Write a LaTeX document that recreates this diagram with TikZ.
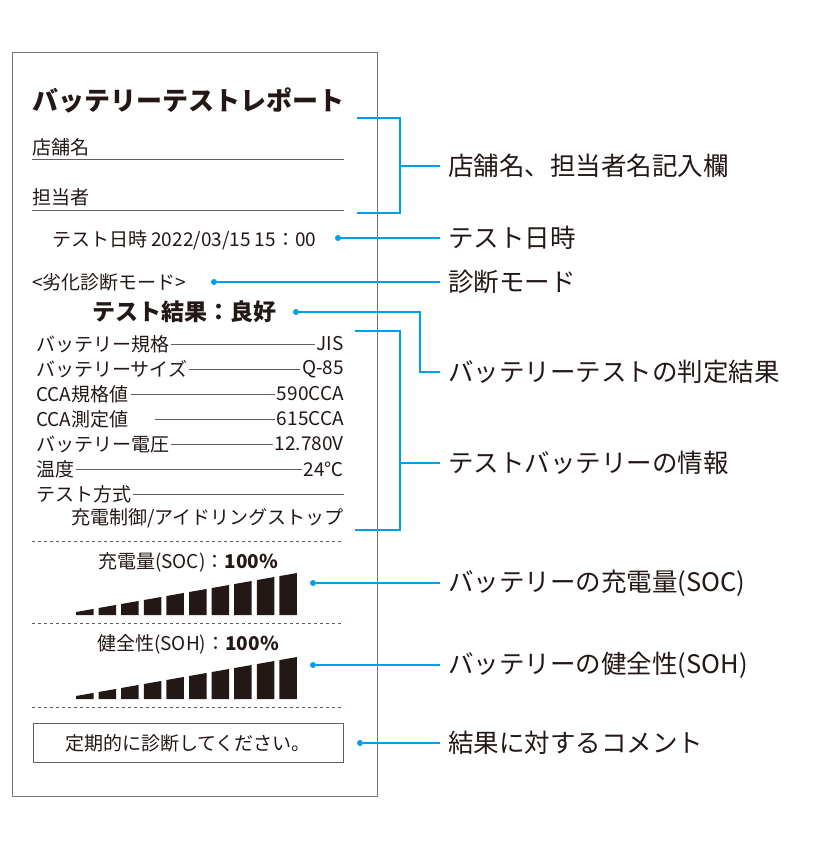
\documentclass[tikz,border=0pt]{standalone}
\usepackage{fontspec}
\setmainfont{Noto Sans CJK JP}
\usetikzlibrary{positioning}
\definecolor{ink}{RGB}{35,24,21}
\definecolor{callout}{RGB}{0,160,233}
\tikzset{
  report/.style={font=\fontsize{19}{21}\selectfont, text=ink, inner sep=0pt},
  label/.style={font=\fontsize{25.5}{28}\selectfont, text=ink, inner sep=0pt, anchor=west},
  rule/.style={draw=ink!70, line width=0.8pt},
  lead/.style={draw=callout, line width=1.4pt},
  dot/.style={circle, fill=callout, inner sep=0pt, minimum size=6pt},
}
\newcommand{\gauge}[1]{% bottom y of the bars
  \foreach \i in {0,...,9}{
    \pgfmathsetmacro{\xl}{76+22.6*\i}
    \pgfmathsetmacro{\xr}{\xl+17.5}
    \fill[ink] (\xl,#1) -- (\xl,{#1-3-(\xl-76)*0.1765}) -- (\xr,{#1-3-(\xr-76)*0.1765}) -- (\xr,#1) -- cycle;
  }}
\begin{document}
\begin{tikzpicture}[x=1pt,y=-1pt]
  \useasboundingbox (0,0) rectangle (830,847);
  \draw[ink!60, line width=0.8pt] (12,52) rectangle (377,796);
  % header
  \node[report, anchor=west, font=\bfseries\fontsize{26}{28}\selectfont] (title) at (32,100) {バッテリーテストレポート};
  \node[report, anchor=west] (shop) at (32,147) {店舗名};
  \draw[rule] (32,159) -- (344,159);
  \node[report, anchor=west] (staff) at (32,197) {担当者};
  \draw[rule] (32,210) -- (344,210);
  \node[report, anchor=west] (date) at (52,240) {テスト日時 2022/03/15 15：00};
  \node[report, anchor=west] (mode) at (32,282) {<劣化診断モード>};
  \node[report, anchor=west, font=\bfseries\fontsize{23}{25}\selectfont] (result) at (92,312) {テスト結果：良好};
  % battery information
  \foreach \y/\name/\val/\gap [count=\n] in {344/バッテリー規格/JIS/0, 369/バッテリーサイズ/Q-85/0,
      394/CCA規格値/590CCA/0, 419/CCA測定値/615CCA/24, 444/バッテリー電圧/12.780V/0, 469/温度/24℃/0}{
    \node[report, anchor=west] (key\n) at (36,\y) {\name};
    \node[report, anchor=east] (val\n) at (344,\y) {\val};
    \draw[rule] ([xshift={2+\gap}]key\n.east) -- ([xshift=-2]val\n.west);
  }
  \node[report, anchor=west] (key7) at (36,494) {テスト方式};
  \draw[rule] ([xshift=2]key7.east) -- (344,494);
  \node[report, anchor=east] (val7) at (344,518) {充電制御/アイドリングストップ};
  % gauges
  \draw[rule, dashed] (32,541) -- (344,541);
  \node[report] (soc) at (188,562) {充電量(SOC)：\textbf{100\%}};
  \gauge{615}
  \draw[rule, dashed] (32,623) -- (344,623);
  \node[report] (soh) at (188,644) {健全性(SOH)：\textbf{100\%}};
  \gauge{699}
  \draw[rule, dashed] (32,707) -- (344,707);
  \node[report, draw=ink!70, line width=0.8pt, minimum width=310pt, minimum height=39pt] (comment) at (188,743) {定期的に診断してください。};
  % callouts
  \node[label] (l1) at (448,166) {店舗名、担当者名記入欄};
  \node[label] (l2) at (448,238) {テスト日時};
  \node[label] (l3) at (448,282) {診断モード};
  \node[label] (l4) at (448,372) {バッテリーテストの判定結果};
  \node[label] (l5) at (448,463) {テストバッテリーの情報};
  \node[label] (l6) at (448,583) {バッテリーの充電量(SOC)};
  \node[label] (l7) at (448,665) {バッテリーの健全性(SOH)};
  \node[label] (l8) at (448,743) {結果に対するコメント};
  \draw[lead] (357,118) -| (400,213) -- (357,213);
  \draw[lead] (400,166) -- ([xshift=-8]l1.west);
  \node[dot] (d2) at (338,238) {};
  \draw[lead] (d2) -- ([xshift=-8]l2.west);
  \node[dot] (d3) at (214,282) {};
  \draw[lead] (d3) -- ([xshift=-8]l3.west);
  \node[dot] (d4) at (296,312) {};
  \draw[lead] (d4) -| (420,372) -- ([xshift=-8]l4.west);
  \draw[lead] (355,331) -| (400,530) -- (355,530);
  \draw[lead] (400,463) -- ([xshift=-8]l5.west);
  \node[dot] (d6) at (313,583) {};
  \draw[lead] (d6) -- ([xshift=-8]l6.west);
  \node[dot] (d7) at (313,665) {};
  \draw[lead] (d7) -- ([xshift=-8]l7.west);
  \node[dot] (d8) at (360,743) {};
  \draw[lead] (d8) -- ([xshift=-8]l8.west);
\end{tikzpicture}
\end{document}
